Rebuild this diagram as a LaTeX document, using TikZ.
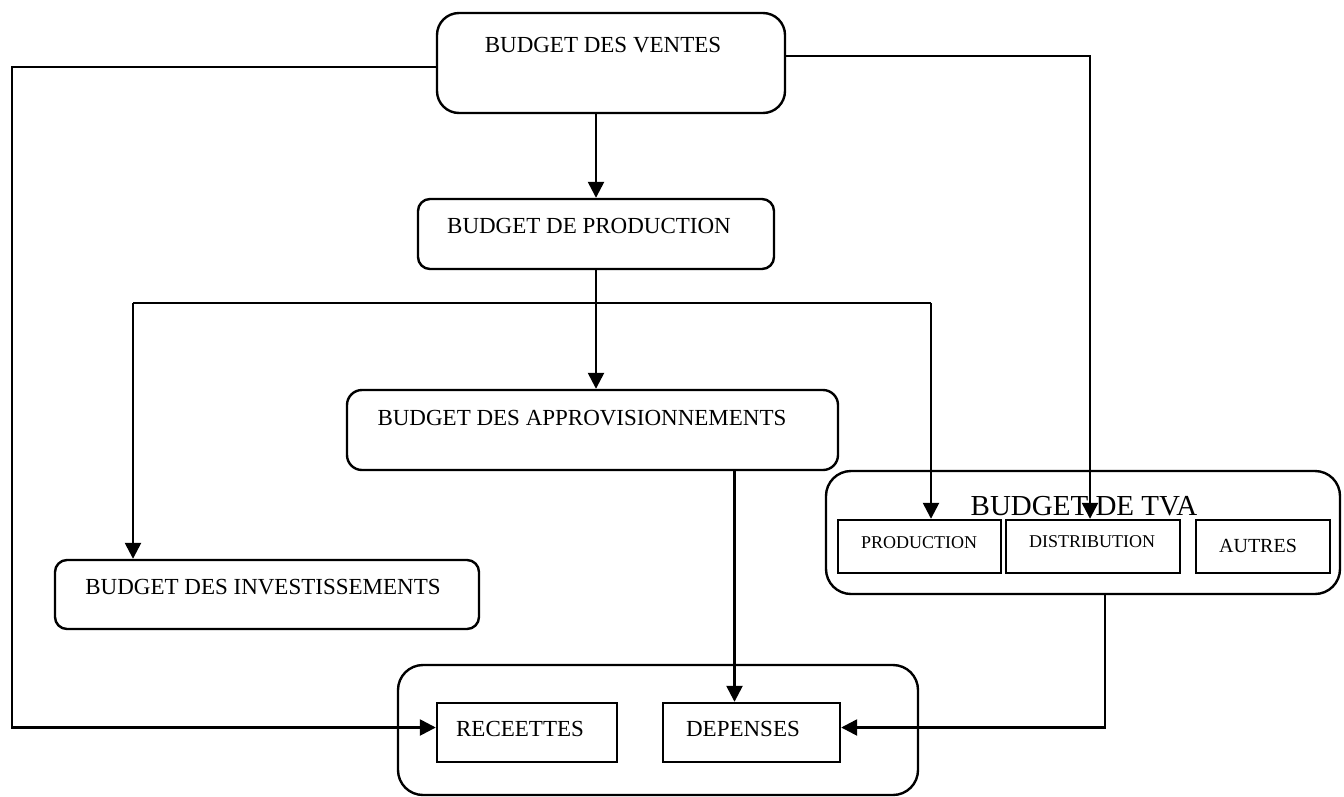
\documentclass[tikz,border=0pt]{standalone}
\usepackage{fontspec}
\setmainfont{Liberation Serif}
\usetikzlibrary{arrows.meta}
\definecolor{budgcolor0001}{RGB}{0,0,0}
\definecolor{budgcolor0002}{RGB}{255,255,255}
\begin{document}
\begin{tikzpicture}[yscale=-1,x=1pt,y=1pt
            ,bstyle0/.style={draw=budgcolor0001,fill=budgcolor0002,line width=2.4pt,rounded corners=#1,inner sep=0pt}
            ,bstyle1/.style={draw=budgcolor0001,fill=budgcolor0002,line width=2.4pt,inner sep=0pt}
            ,bstyle2/.style={color=budgcolor0001,line width=2.5pt}
            ,bstyle3/.style={color=budgcolor0001,line width=2.5pt,-{Triangle[length=16pt,width=16pt]}}
            ,tstyle0/.style={font=\fontsize{23}{27}\selectfont,inner sep=0pt}
            ,tstyle1/.style={font=\fontsize{18}{22}\selectfont,inner sep=0pt}
        ]
        \useasboundingbox (0,0) rectangle (1344,796);
        % boxes
        \node[bstyle0=22pt,minimum width=348pt,minimum height=100pt] (ventes) at (611,63) {};
        \node[tstyle0] (ventes-t) at (603,45) {BUDGET DES VENTES};
        \node[bstyle0=12pt,minimum width=356pt,minimum height=70pt] (prod) at (596,234) {};
        \node[tstyle0] (prod-t) at (589,226) {BUDGET DE PRODUCTION};
        \node[bstyle0=15pt,minimum width=491pt,minimum height=80pt] (appro) at (592.5,430) {};
        \node[tstyle0] (appro-t) at (582,418) {BUDGET DES APPROVISIONNEMENTS};
        \node[bstyle0=12pt,minimum width=424pt,minimum height=69pt] (invest) at (267,594.5) {};
        \node[tstyle0] (invest-t) at (263,587) {BUDGET DES INVESTISSEMENTS};
        % tva
        \node[bstyle0=25pt,minimum width=514pt,minimum height=123pt] (tva) at (1083,532.5) {};
        \node[tstyle0,font=\fontsize{29}{33}\selectfont] (tva-t) at (1084,506) {BUDGET DE TVA};
        \node[bstyle1,minimum width=163pt,minimum height=53pt] (tvaprod) at (919.5,546.5) {};
        \node[tstyle1] (tvaprod-t) at (919,543) {PRODUCTION};
        \node[bstyle1,minimum width=174pt,minimum height=53pt] (tvadist) at (1093,546.5) {};
        \node[tstyle1] (tvadist-t) at (1092,542) {DISTRIBUTION};
        \node[bstyle1,minimum width=134pt,minimum height=53pt] (tvaautres) at (1263,546.5) {};
        \node[tstyle1,font=\fontsize{20}{24}\selectfont] (tvaautres-t) at (1258,546) {AUTRES};
        % tresorerie
        \node[bstyle0=25pt,minimum width=520pt,minimum height=130pt] (treso) at (658,730) {};
        \node[bstyle1,minimum width=180pt,minimum height=59pt] (recettes) at (527,732.5) {};
        \node[tstyle0] (recettes-t) at (520,729) {RECEETTES};
        \node[bstyle1,minimum width=177pt,minimum height=59pt] (depenses) at (751.5,732.5) {};
        \node[tstyle0] (depenses-t) at (743,729) {DEPENSES};
        % links
        \coordinate (wl) at (12,67);
        \coordinate (er) at (1090,56);
        \coordinate (bl) at (133,303);
        \coordinate (br) at (931,303);
        \draw[bstyle3] (ventes.west |- wl) -- (wl) |- ([yshift=-5pt]recettes.west);
        \draw[bstyle3] (ventes.east |- er) -- (er) -- (er |- tvadist.north);
        \draw[bstyle3] (ventes.south -| prod.north) -- (prod.north);
        \draw[bstyle3] (prod.south) -- (prod.south |- appro.north);
        \draw[bstyle2] (bl) -- (br);
        \draw[bstyle3] (bl) -- (bl |- invest.north);
        \draw[bstyle3] (br) -- (br |- tvaprod.north);
        \draw[bstyle3] ([xshift=-17pt]depenses.north |- appro.south) -- ([xshift=-17pt]depenses.north);
        \draw[bstyle3] ([xshift=22pt]tva.south) |- ([yshift=-5pt]depenses.east);
    \end{tikzpicture}
\end{document}
